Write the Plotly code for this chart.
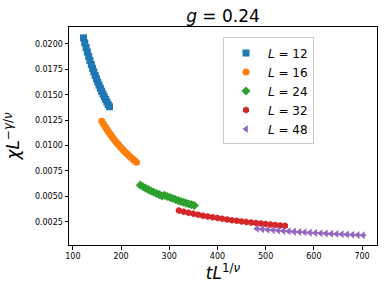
import plotly.graph_objects as go

# ---- data ----
labels = ["<i>L</i> = 12", "<i>L</i> = 16", "<i>L</i> = 24", "<i>L</i> = 32", "<i>L</i> = 48"]

x_L12 = [122.0, 124.7, 127.4, 130.1, 132.8, 135.5, 138.2, 140.9, 143.6, 146.3, 149.0,
         151.7, 154.4, 157.1, 159.8, 162.5, 165.2, 167.9, 170.6, 173.3, 176.0]
y_L12 = [0.02060, 0.02011, 0.01965, 0.01921, 0.01878, 0.01837, 0.01798, 0.01761, 0.01725,
         0.01690, 0.01657, 0.01625, 0.01594, 0.01564, 0.01535, 0.01507, 0.01480, 0.01455,
         0.01429, 0.01405, 0.01382]

x_L16 = [160.0, 163.6, 167.2, 170.8, 174.4, 178.0, 181.6, 185.2, 188.8, 192.4, 196.0,
         199.6, 203.2, 206.8, 210.4, 214.0, 217.6, 221.2, 224.8, 228.4, 232.0]
y_L16 = [0.01240, 0.01211, 0.01184, 0.01157, 0.01132, 0.01108, 0.01084, 0.01062, 0.01041,
         0.01020, 0.01000, 0.00981, 0.00963, 0.00945, 0.00928, 0.00911, 0.00895, 0.00880,
         0.00865, 0.00850, 0.00836]

x_L24 = [240.0, 245.6, 251.2, 256.8, 262.4, 268.0, 273.6, 279.2, 284.8, 290.4, 296.0,
         301.6, 307.2, 312.8, 318.4, 324.0, 329.6, 335.2, 340.8, 346.4, 352.0]
y_L24 = [0.00610, 0.00595, 0.00580, 0.00566, 0.00553, 0.00540, 0.00528, 0.00517, 0.00505,
         0.00510, 0.00499, 0.00489, 0.00479, 0.00469, 0.00459, 0.00450, 0.00442, 0.00433,
         0.00425, 0.00418, 0.00410]

x_L32 = [320, 330, 340, 350, 360, 370, 380, 390, 400, 410, 420, 430, 440, 450, 460, 470,
         480, 490, 500, 510, 520, 530, 540]
y_L32 = [0.003600, 0.003488, 0.003382, 0.003283, 0.003189, 0.003100, 0.003016, 0.002936,
         0.002861, 0.002789, 0.002721, 0.002655, 0.002593, 0.002534, 0.002477, 0.002423,
         0.002371, 0.002321, 0.002273, 0.002227, 0.002183, 0.002141, 0.002100]

x_L48 = [482, 493, 504, 515, 526, 537, 548, 559, 570, 581, 592, 603, 614, 625, 636, 647,
         658, 669, 680, 691, 702]
y_L48 = [0.001810, 0.001763, 0.001719, 0.001676, 0.001636, 0.001597, 0.001560, 0.001524,
         0.001490, 0.001457, 0.001426, 0.001396, 0.001367, 0.001339, 0.001312, 0.001286,
         0.001261, 0.001237, 0.001214, 0.001192, 0.001170]

err_sizes = [0.00020, 0.00012, 0.00008, 0.00005, 0.00004]

x_ticks = [100, 200, 300, 400, 500, 600, 700]
y_ticks = [0.0025, 0.0050, 0.0075, 0.0100, 0.0125, 0.0150, 0.0175, 0.0200]

# ---- styling ----
colors = ["#1f77b4", "#ff7f0e", "#2ca02c", "#d62728", "#9467bd"]
symbols = ["square", "circle", "diamond", "hexagon", "triangle-left"]
xs = [x_L12, x_L16, x_L24, x_L32, x_L48]
ys = [y_L12, y_L16, y_L24, y_L32, y_L48]

fig = go.Figure()
for lab, x, y, e, c, s in zip(labels, xs, ys, err_sizes, colors, symbols):
    fig.add_trace(go.Scatter(
        x=x, y=y, mode="markers", name=lab,
        marker=dict(symbol=s, color=c, size=7, line=dict(width=0)),
        error_y=dict(type="constant", value=e, color=c, thickness=1, width=3),
    ))

font = "DejaVu Sans"
fig.update_layout(
    width=386, height=290,
    margin=dict(l=69, r=9, t=27, b=45),
    paper_bgcolor="white", plot_bgcolor="white",
    font=dict(family=font, color="black"),
    title=dict(text="<i>g</i> = 0.24", x=(69 + 377) / 2 / 386, xanchor="center",
               y=1 - 16 / 290, yanchor="middle", font=dict(size=17, family=font)),
    legend=dict(x=0.5, y=0.952, xanchor="left", yanchor="top",
                bordercolor="#cccccc", borderwidth=1, bgcolor="rgba(255,255,255,0.8)",
                font=dict(size=12, family=font), tracegroupgap=0,
                itemwidth=34),
    showlegend=True,
)
fig.update_xaxes(
    range=[92, 731], tickvals=x_ticks, ticktext=[str(v) for v in x_ticks],
    showline=True, mirror=True, linecolor="black", linewidth=1,
    ticks="outside", ticklen=3.5, tickcolor="black", showgrid=False, zeroline=False,
    tickfont=dict(size=8, family=font), automargin=False,
    title=dict(text="<i>tL</i><sup>1/<i>ν</i></sup>", font=dict(size=17, family=font), standoff=0),
)
fig.update_yaxes(
    range=[0.00021, 0.02167], tickvals=y_ticks, ticktext=[f"{v:.4f}" for v in y_ticks],
    showline=True, mirror=True, linecolor="black", linewidth=1,
    ticks="outside", ticklen=3.5, tickcolor="black", showgrid=False, zeroline=False,
    tickfont=dict(size=8, family=font), automargin=False,
    title=dict(text="<i>χL</i><sup>−<i>γ</i>/<i>ν</i></sup>", font=dict(size=17, family=font), standoff=10),
)

fig.write_html("out.html", config={"displayModeBar": False},
               post_script="document.body.style.margin='0';")
